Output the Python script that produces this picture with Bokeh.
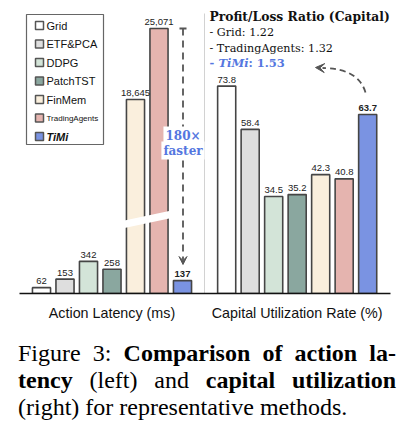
import numpy as np
from bokeh.plotting import figure
from bokeh.models import (Range1d, ColumnDataSource, FixedTicker, Arrow, VeeHead,
                          TeeHead, Label, Div)
from bokeh.layouts import column
from bokeh.embed import file_html
from bokeh.resources import INLINE
from bokeh.core.properties import value

# ---------------- data ----------------
methods = ["Grid", "ETF&PCA", "DDPG", "PatchTST", "FinMem", "TradingAgents", "TiMi"]
latency_ms = [62, 153, 342, 258, 18645, 25071, 137]
capital_util_pct = [73.8, 58.4, 34.5, 35.2, 42.3, 40.8, 63.7]
colors = ["#FFFFFF", "#DEDEDE", "#D3E4D8", "#8AA79F", "#FAEFDD", "#E5B4AF", "#7A93E2"]
group_labels = ["Action Latency (ms)", "Capital Utilization Rate (%)"]
pl_title = "Profit/Loss Ratio (Capital)"
pl_methods = ["Grid", "TradingAgents", "TiMi"]
pl_ratios = [1.22, 1.32, 1.53]
speedup_lines = ["180×", "faster"]
highlight = "TiMi"

# ---------------- layout / scale settings ----------------
W, H = 411, 340
FL, FR, FT, FB = 19, 390, 3, 293          # frame edges (screen px)
X0, SLOT = 41.0, 23.5                      # first bar centre, slot width (px)
RIGHT_OFF = 7.88                           # offset of right group (slots)
BAR_W = 0.77
FH = FB - FT
SMALL_PX = 0.094                           # px per ms below the break
BIG_PX = 0.011049                          # px per ms above the break
BIG_START = 1087.0
BREAK_MS = 1000
PCT_PX = 2.81
BLUE = "#5577E0"
OUTLINE = "#454545"
SANS = "Liberation Sans"
SERIF = "DejaVu Serif"

p = figure(width=W, height=H,
           x_range=Range1d((FL - X0) / SLOT, (FR - X0) / SLOT),
           y_range=Range1d(0, FH / SMALL_PX),
           output_backend="svg", toolbar_location=None, y_axis_location=None,
           min_border_left=FL, min_border_right=W - FR,
           min_border_top=FT, min_border_bottom=H - FB,
           outline_line_color=None, background_fill_color="white",
           border_fill_color="white")
p.extra_y_ranges = {"big": Range1d(BIG_START, BIG_START + FH / BIG_PX),
                    "pct": Range1d(0, FH / PCT_PX),
                    "sy": Range1d(FB, FT)}
p.extra_x_ranges = {"sx": Range1d(FL, FR)}
p.xgrid.visible = False
p.ygrid.visible = False

# axis = baseline + group labels
lt, rt = 3.0, RIGHT_OFF + 3.0
ax = p.xaxis[0]
ax.ticker = FixedTicker(ticks=[lt, rt])
ax.major_label_overrides = {lt: group_labels[0], rt: group_labels[1]}
ax.axis_line_color = "#111111"
ax.axis_line_width = 1.3
ax.major_tick_line_color = None
ax.minor_tick_line_color = None
ax.major_label_standoff = 5
ax.major_label_text_font = SANS
ax.major_label_text_font_size = "14.3px"
ax.major_label_text_color = "#111111"

# ---------------- left group: latency (broken axis) ----------------
idx = np.arange(len(methods))
fstyle = ["bold" if m == highlight else "normal" for m in methods]
lat = np.array(latency_ms)
small = lat < BREAK_MS
big = ~small

def src(mask, xs, vals):
    return ColumnDataSource(dict(
        x=xs[mask], top=np.array(vals)[mask],
        color=np.array(colors)[mask],
        lab=[f"{v:,}" for v in np.array(vals)[mask]],
        fs=np.array(fstyle)[mask]))

s_small = src(small, idx.astype(float), latency_ms)
s_big = src(big, idx.astype(float), latency_ms)

p.vbar(x="x", top="top", bottom=0, width=BAR_W, source=s_small,
       fill_color="color", line_color=OUTLINE, line_width=1.6)
p.vbar(x="x", top="top", bottom=BIG_START, width=BAR_W, source=s_big,
       y_range_name="big", fill_color="color", line_color=OUTLINE, line_width=1.6)

lab_kw = dict(text="lab", text_align="center", text_baseline="middle",
              y_offset=-6.5, text_font=value(SANS), text_font_size="9.5px",
              text_color="#222222", text_font_style="fs")
p.text(x="x", y="top", source=s_small, **lab_kw)
p.text(x="x", y="top", source=s_big, y_range_name="big", **lab_kw)

# break marker (white slanted band)
p.patch(x=[124, 171, 171, 124], y=[220, 210, 217.5, 227.5],
        x_range_name="sx", y_range_name="sy",
        fill_color="white", line_color=None)

# ---------------- right group: capital utilization ----------------
s_pct = ColumnDataSource(dict(
    x=idx + RIGHT_OFF, top=capital_util_pct, color=colors,
    lab=[f"{v:.1f}" for v in capital_util_pct], fs=fstyle))
p.vbar(x="x", top="top", bottom=0, width=BAR_W, source=s_pct,
       y_range_name="pct", fill_color="color", line_color=OUTLINE, line_width=1.6)
p.text(x="x", y="top", source=s_pct, y_range_name="pct", **lab_kw)

# separator
p.segment(x0=[204], y0=[FB], x1=[204], y1=[13], x_range_name="sx",
          y_range_name="sy", line_color="#D2D2D2", line_width=1)

# ---------------- legend (hand-built) ----------------
p.quad(left=[26], right=[103], top=[14], bottom=[144], x_range_name="sx",
       y_range_name="sy", fill_color="white", line_color="#666666", line_width=1.2)
rows = 25 + 18.5 * idx
leg_sizes = ["8px" if m == "TradingAgents" else "11px" for m in methods]
leg_styles = ["bold italic" if m == highlight else "normal" for m in methods]
leg = ColumnDataSource(dict(x=[39] * len(methods), tx=[46] * len(methods),
                            y=rows, color=colors, name=methods,
                            fsz=leg_sizes, fst=leg_styles))
p.scatter(x="x", y="y", source=leg, marker="square", size=8,
          fill_color="color", line_color="#555555", line_width=1.5,
          x_range_name="sx", y_range_name="sy")
p.text(x="tx", y="y", text="name", source=leg, text_baseline="middle",
       text_align="left", text_font=value(SANS), text_font_size="fsz",
       text_font_style="fst", text_color="#111111",
       x_range_name="sx", y_range_name="sy")

# ---------------- profit / loss block ----------------
pl_kw = dict(x_range_name="sx", y_range_name="sy", text_align="left",
             text_baseline="middle", text_font=value(SERIF))
p.text(x=[209], y=[16], text=[pl_title], text_font_style="bold",
       text_font_size="12.3px", text_color="#111111", **pl_kw)
line_y = [32, 47.5, 62.5]
for m, r, yy in zip(pl_methods, pl_ratios, line_y):
    if m != highlight:
        p.text(x=[209], y=[yy], text=[f"- {m}: {r:.2f}"], text_color="#111111",
               text_font_size="11.2px", **pl_kw)
    else:
        p.text(x=[209], y=[yy], text=["- "], text_font_style="bold",
               text_font_size="11.5px", text_color=BLUE, **pl_kw)
        p.text(x=[218], y=[yy], text=[m], text_font_style="bold italic",
               text_font_size="11.5px", text_color=BLUE, **pl_kw)
        p.text(x=[248], y=[yy], text=[f": {r:.2f}"], text_font_style="bold",
               text_font_size="11.5px", text_color=BLUE, **pl_kw)

# curved dashed arrow (TiMi bar -> TiMi ratio)
p.quadratic(x0=[365], y0=[92], x1=[322], y1=[67.5], cx=[358], cy=[68],
            x_range_name="sx", y_range_name="sy", line_dash="6 4",
            line_width=1.8, line_color="#555555")
p.add_layout(Arrow(x_start=324, y_start=67.6, x_end=315, y_end=67,
                   x_range_name="sx", y_range_name="sy", line_alpha=0,
                   end=VeeHead(size=9, fill_color="#555555", line_color="#555555")))

# vertical dashed arrow (slowest -> TiMi)
p.add_layout(Arrow(x_start=182.5, y_start=28, x_end=182.5, y_end=264,
                   x_range_name="sx", y_range_name="sy",
                   line_dash="7 5", line_width=1.8, line_color="#555555",
                   start=TeeHead(size=7, line_color="#555555", line_width=1.8),
                   end=VeeHead(size=8, fill_color="#555555", line_color="#555555")))
for t, yy in zip(speedup_lines, [135, 150]):
    p.add_layout(Label(x=182.5, y=yy, text=t, x_range_name="sx", y_range_name="sy",
                       text_align="center", text_baseline="middle",
                       text_font=SERIF, text_font_style="bold",
                       text_font_size="12px", text_color=BLUE,
                       background_fill_color="white", padding=2))

# ---------------- caption ----------------
cap_html = (
    '<div style="font-family:\'Liberation Serif\',serif;font-size:24px;'
    'line-height:27px;color:#000;width:378px;margin:0 0 0 18px;">'
    '<div style="text-align:justify;text-align-last:justify;white-space:nowrap;">'
    'Figure 3: <b>Comparison of action la-</b></div>'
    '<div style="text-align:justify;text-align-last:justify;white-space:nowrap;">'
    '<b>tency</b> (left) and <b>capital utilization</b></div>'
    '<div style="text-align:left;white-space:nowrap;">'
    '(right) for representative methods.</div></div>')
cap = Div(text=cap_html, width=W, height=430 - H, margin=(0, 0, 0, 0))

layout = column(p, cap, spacing=0)
open("out.html", "w").write(file_html(layout, INLINE))
